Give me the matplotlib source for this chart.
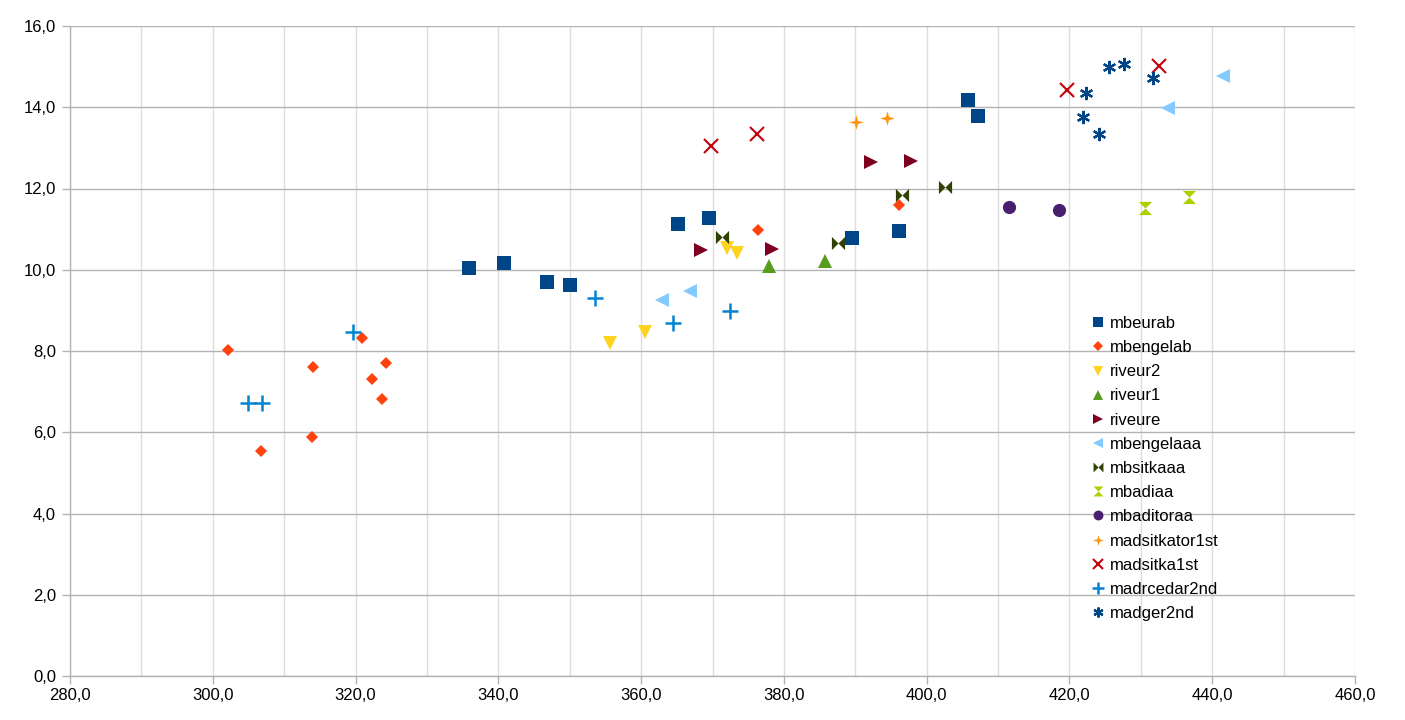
import matplotlib
matplotlib.use("Agg")
import matplotlib.pyplot as plt
from matplotlib.path import Path
from matplotlib.ticker import MultipleLocator, FuncFormatter

plt.rcParams['font.family'] = ['Liberation Sans', 'DejaVu Sans']

names = ["mbeurab", "mbengelab", "riveur2", "riveur1", "riveure", "mbengelaaa",
         "mbsitkaaa", "mbadiaa", "mbaditoraa", "madsitkator1st", "madsitka1st",
         "madrcedar2nd", "madger2nd"]

mbeurab_x = [335.9, 340.8, 346.8, 350.0, 365.2, 369.5, 389.5, 396.1, 405.8, 407.2]
mbeurab_y = [10.04, 10.17, 9.70, 9.62, 11.13, 11.27, 10.78, 10.95, 14.18, 13.78]
mbengelab_x = [302.1, 306.8, 313.9, 314.1, 320.9, 322.3, 323.7, 324.3, 376.4, 396.1]
mbengelab_y = [8.02, 5.53, 5.88, 7.61, 8.32, 7.30, 6.82, 7.70, 10.98, 11.59]
riveur2_x = [355.6, 360.5, 372.1, 373.4]
riveur2_y = [8.20, 8.48, 10.54, 10.42]
riveur1_x = [377.9, 385.8]
riveur1_y = [10.10, 10.22]
riveure_x = [368.4, 378.3, 392.2, 397.8]
riveure_y = [10.49, 10.50, 12.65, 12.68]
mbengelaaa_x = [362.9, 366.9, 433.8, 441.5]
mbengelaaa_y = [9.26, 9.48, 13.97, 14.77]
mbsitkaaa_x = [371.3, 387.6, 396.6, 402.5]
mbsitkaaa_y = [10.81, 10.65, 11.84, 12.04]
mbadiaa_x = [430.6, 436.7]
mbadiaa_y = [11.51, 11.78]
mbaditoraa_x = [411.6, 418.6]
mbaditoraa_y = [11.54, 11.46]
madsitkator1st_x = [390.1, 394.4]
madsitkator1st_y = [13.64, 13.74]
madsitka1st_x = [369.8, 376.3, 419.7, 432.6]
madsitka1st_y = [13.05, 13.33, 14.42, 15.02]
madrcedar2nd_x = [305.0, 306.9, 319.6, 353.5, 364.4, 372.4]
madrcedar2nd_y = [6.73, 6.73, 8.46, 9.31, 8.68, 8.98]
madger2nd_x = [425.6, 427.6, 431.7, 422.3, 421.9, 424.1]
madger2nd_y = [15.00, 15.06, 14.73, 14.34, 13.75, 13.34]

xs = [mbeurab_x, mbengelab_x, riveur2_x, riveur1_x, riveure_x, mbengelaaa_x,
      mbsitkaaa_x, mbadiaa_x, mbaditoraa_x, madsitkator1st_x, madsitka1st_x,
      madrcedar2nd_x, madger2nd_x]
ys = [mbeurab_y, mbengelab_y, riveur2_y, riveur1_y, riveure_y, mbengelaaa_y,
      mbsitkaaa_y, mbadiaa_y, mbaditoraa_y, madsitkator1st_y, madsitka1st_y,
      madrcedar2nd_y, madger2nd_y]

colors = ["#004586", "#ff420e", "#ffd320", "#579d1c", "#7e0021", "#83caff",
          "#314004", "#aecf00", "#4b1f6f", "#ff950e", "#c5000b", "#0084d1",
          "#004586"]

bowtie = Path([(-1, 1), (0, 0), (1, 1), (1, -1), (0, 0), (-1, -1), (-1, 1)],
              [Path.MOVETO] + [Path.LINETO] * 5 + [Path.CLOSEPOLY])
hourglass = Path([(-1, 1), (1, 1), (0, 0), (1, -1), (-1, -1), (0, 0), (-1, 1)],
                 [Path.MOVETO] + [Path.LINETO] * 5 + [Path.CLOSEPOLY])
s = 0.22
star4 = Path([(0, 1), (s, s), (1, 0), (s, -s), (0, -1), (-s, -s), (-1, 0), (-s, s), (0, 1)],
             [Path.MOVETO] + [Path.LINETO] * 7 + [Path.CLOSEPOLY])

markers = ['s', 'D', 'v', '^', '>', '<', bowtie, hourglass, 'o', star4, 'x', '+', (6, 2, 0)]
sizes = [9.5, 6.5, 9.5, 9.5, 9.5, 9.5, 9.5, 9.5, 9.5, 10.5, 9.5, 11, 9.5]
mew = [0, 0, 0, 0, 0, 0, 0, 0, 0, 0, 1.5, 1.8, 1.6]

fig = plt.figure(figsize=(14.05, 7.2), dpi=100)
ax = fig.add_axes([70/1405, 1 - 676/720, 1285/1405, 650/720])

for i, n in enumerate(names):
    ax.plot(xs[i], ys[i], linestyle='none', marker=markers[i], markersize=sizes[i],
            color=colors[i], markerfacecolor=colors[i], markeredgecolor=colors[i],
            markeredgewidth=mew[i], label=n, zorder=3)

ax.set_xlim(280, 460)
ax.set_ylim(0, 16)
ax.xaxis.set_major_locator(MultipleLocator(20))
ax.xaxis.set_minor_locator(MultipleLocator(10))
ax.yaxis.set_major_locator(MultipleLocator(2))
fmt = FuncFormatter(lambda v, p: f"{v:.1f}".replace('.', ','))
ax.xaxis.set_major_formatter(fmt)
ax.yaxis.set_major_formatter(fmt)

ax.grid(True, which='both', axis='x', color='#dddddd', linewidth=1, zorder=0)
ax.grid(True, which='major', axis='y', color='#b3b3b3', linewidth=1, zorder=0)
ax.set_axisbelow(True)
for sp in ['top', 'right']:
    ax.spines[sp].set_visible(False)
for sp in ['left', 'bottom']:
    ax.spines[sp].set_color('#b3b3b3')
    ax.spines[sp].set_linewidth(1)
ax.tick_params(which='major', length=6, width=1, color='#b3b3b3', labelsize=12,
               labelcolor='#000000')
ax.tick_params(axis='y', pad=4)
ax.tick_params(axis='x', pad=3)
ax.tick_params(which='minor', length=0)

leg = ax.legend(loc='upper left', bbox_to_anchor=((1092 - 70) / 1285, (676 - 316) / 650),
                frameon=False, fontsize=12, handlelength=0.75, handletextpad=0.35,
                labelspacing=0.55, borderpad=0, borderaxespad=0, markerscale=0.75)

fig.savefig("out.png", dpi=100)
